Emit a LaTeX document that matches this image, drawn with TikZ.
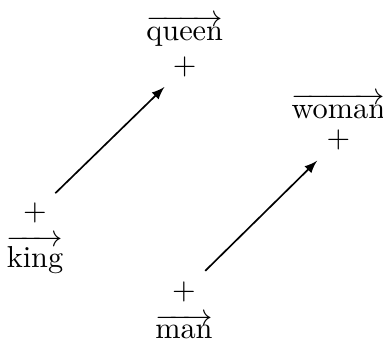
\documentclass[tikz,border=0pt,11pt]{standalone}
\usepackage{amsmath, amssymb}
\usepackage{tikz}

\begin{document}
\begin{tikzpicture}[>=latex, pt/.style={inner sep=1pt}]
  \useasboundingbox (-0.444,-1.637) rectangle (4.416,2.703);
  \node[pt, label={[inner sep=3pt]below:$\overrightarrow{\text{king}}$}] (king) at (0,0) {$+$};
  \node[pt, label={[inner sep=2.5pt]above:$\overrightarrow{\text{queen}}$}] (queen) at (1.90,1.85) {$+$};
  \node[pt, label={[inner sep=3pt]below:$\overrightarrow{\text{man}}$}] (man) at (1.89,-1.0) {$+$};
  \node[pt, label={[inner sep=2.5pt]above:$\overrightarrow{\text{woman}}$}] (woman) at (3.85,0.93) {$+$};
  \draw[->, semithick, shorten <=0.36cm, shorten >=0.36cm] (king.center) -- (queen.center);
  \draw[->, semithick, shorten <=0.38cm, shorten >=0.38cm] (man.center) -- (woman.center);
\end{tikzpicture}
\end{document}
